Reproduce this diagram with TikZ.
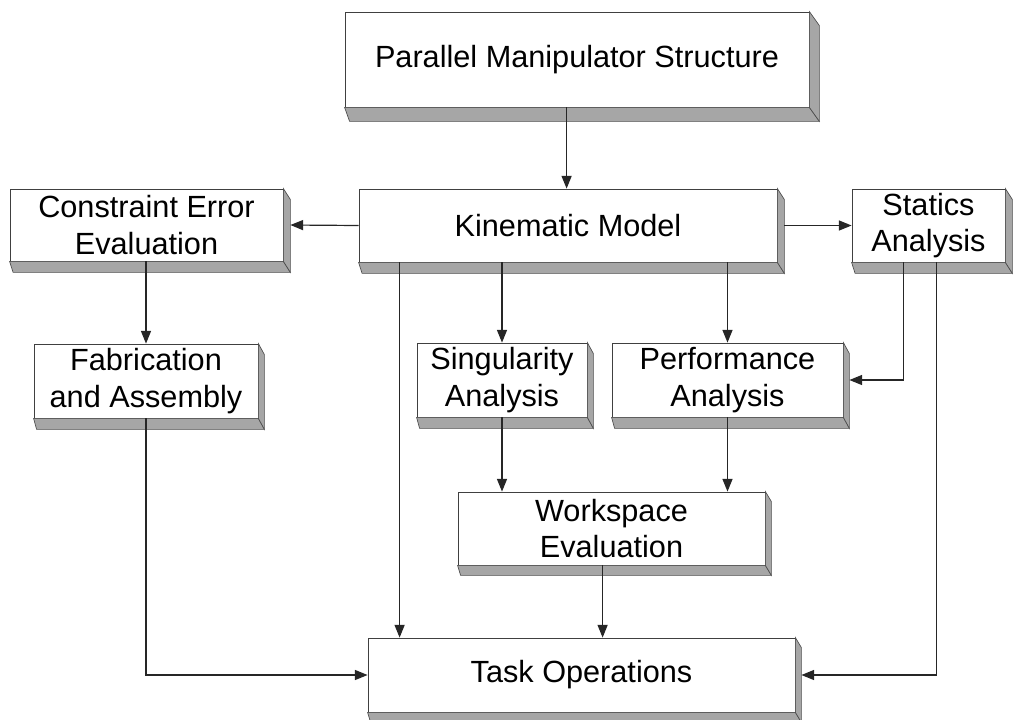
\documentclass[tikz,border=0pt]{standalone}
\usepackage{fontspec}
\setmainfont{Liberation Sans}
\usetikzlibrary{arrows.meta,calc}
\tikzset{
  box/.style={draw=black!75, line width=0.6pt, fill=white, inner sep=0pt, align=center,
    font=\fontsize{23}{27.5}\selectfont},
  face/.style={fill=black!35, draw=black!70, line width=0.5pt},
  arr/.style={draw=black!85, line width=0.9pt, -{Triangle[length=9.5pt,width=7.5pt]}},
}
\newcommand\boxnode[6]{%
  \node[box, minimum width={(#4-#2)*0.75pt}, minimum height={(#5-#3)*0.75pt}]
    (#1) at ({(#2+#4)/2},{(#3+#5)/2}) {#6};}
\newcommand\slabfaces[3]{%
  \fill[face] (#1.south west) -- (#1.south east) -- ($(#1.south east)+(#2,#3)$) -- ($(#1.south west)+(#2*0.5,#3)$) -- cycle;
  \draw[face] (#1.north east) -- ($(#1.north east)+(#2,#3)$) -- ($(#1.south east)+(#2,#3)$) -- (#1.south east) -- cycle;
}
\begin{document}
\begin{tikzpicture}[x=0.75pt,y=-0.75pt]
\useasboundingbox (0,0) rectangle (1015,719);
% nodes
\boxnode{pms}{345}{12}{809}{107}{Parallel Manipulator Structure}
\boxnode{km}{359}{189}{777}{262}{Kinematic Model}
\boxnode{ce}{10}{189}{283}{261}{Constraint Error\\Evaluation}
\boxnode{sa}{852}{189}{1005}{262}{Statics\\Analysis}
\boxnode{fa}{34}{344}{258}{418}{Fabrication\\and Assembly}
\boxnode{si}{417}{343}{587}{417}{Singularity\\Analysis}
\boxnode{pa}{612}{343}{843}{417}{Performance\\Analysis}
\boxnode{we}{458}{492}{765}{565}{Workspace\\Evaluation}
\boxnode{to}{368}{638}{795}{712}{Task Operations}
% 3D faces
\slabfaces{pms}{10}{14}
\slabfaces{km}{7}{11}
\slabfaces{ce}{7}{11}
\slabfaces{sa}{7}{11}
\slabfaces{fa}{6}{11}
\slabfaces{si}{6}{11}
\slabfaces{pa}{6}{11}
\slabfaces{we}{6}{10}
\slabfaces{to}{6}{10}
% connectors
\draw[arr] ($(pms.south west)+(222,0)$) coordinate (p1) -- (p1 |- km.north);
\draw[arr] (km.west) -- ($(ce.east)+(7,0)$);
\draw[arr] ($(km.east)+(7,0)$) -- (sa.west);
\draw[arr] (fa.north |- ce.south) -- (fa.north);
\draw[arr] ($(km.south west)+(41,0)$) coordinate (k1) -- (k1 |- to.north);
\draw[arr] (si.north |- km.south) -- (si.north);
\draw[arr] (pa.north |- km.south) -- (pa.north);
\draw[arr] ($(sa.south west)+(52,0)$) coordinate (s1) -- (s1 |- pa.east) -- ($(pa.east)+(6,0)$);
\draw[arr] ($(sa.south west)+(85,0)$) coordinate (s2) -- (s2 |- to.east) -- ($(to.east)+(6,0)$);
\draw[arr] (fa.south) -- (fa.south |- to.west) -- (to.west);
\draw[arr] (si.south) -- (si.south |- we.north);
\draw[arr] (pa.south) -- (pa.south |- we.north);
\draw[arr] ($(we.south west)+(145,0)$) coordinate (w1) -- (w1 |- to.north);
\end{tikzpicture}
\end{document}
